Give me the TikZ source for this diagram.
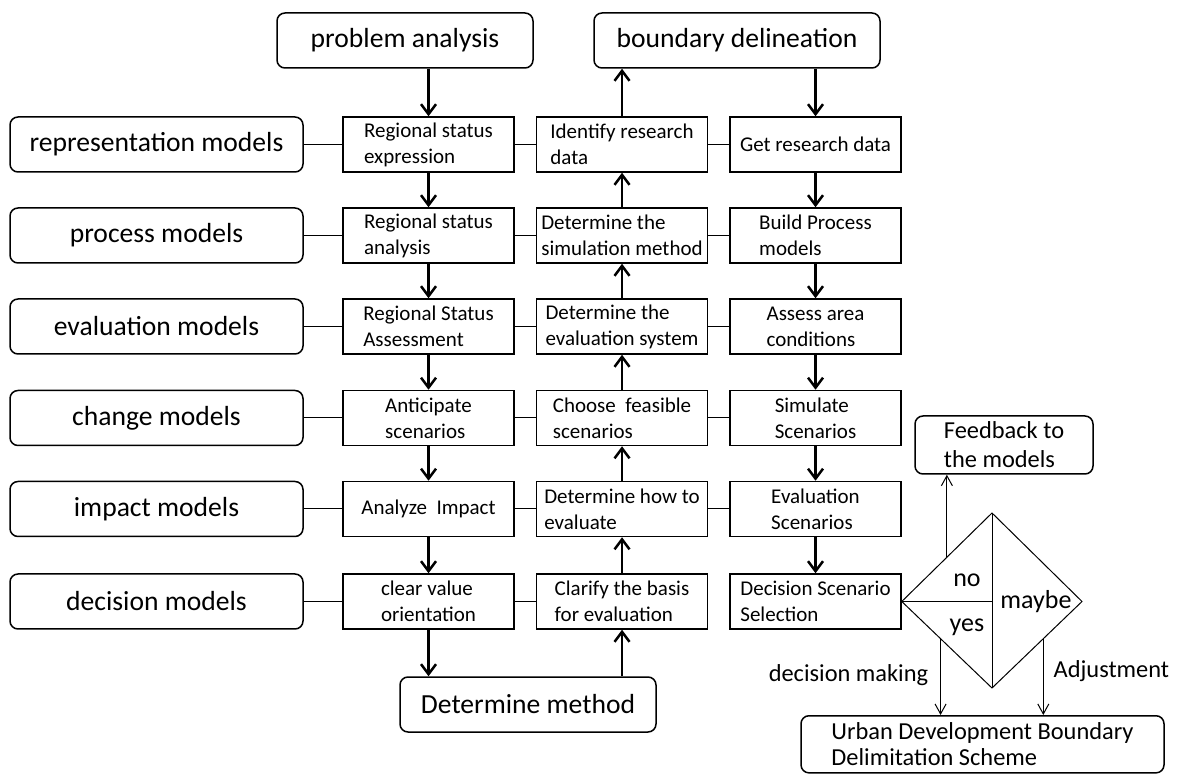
\documentclass[tikz,border=0pt]{standalone}
\usepackage{fontspec}
\setmainfont{Carlito}
\usepackage{tikz}
\usetikzlibrary{positioning,arrows.meta,calc}

\begin{document}
\begin{tikzpicture}[x=0.5pt,y=-0.5pt,
	every node/.style={inner sep=1pt},
	box/.style={draw,line width=0.75pt,minimum width=85.5pt,minimum height=27.5pt,align=left,font=\fontsize{10.5}{13}\selectfont},
	model/.style={draw,rounded corners=4pt,line width=0.75pt,minimum height=27.5pt,font=\fontsize{13.8}{16}\selectfont},
	flow/.style={line width=1.25pt,-{Straight Barb[length=5pt,width=7.5pt]}},
	link/.style={line width=0.5pt},
	thin/.style={line width=0.5pt,-{Straight Barb[length=5pt,width=5.5pt]}},
	lbl/.style={font=\fontsize{12.2}{14.5}\selectfont}]

		\useasboundingbox (0,0) rectangle (1178,774);
		\clip (0,0) rectangle (1178,774);

		%top and bottom nodes
		\node[model,minimum width=128pt] (pa) at (405,40.5) {problem analysis};
		\node[model,minimum width=143pt] (bd) at (737,40.5) {boundary delineation};
		\node[model,minimum width=128pt] (dm) at (528,704.5) {Determine method};

		%model nodes
		\node[model,minimum width=146.5pt] (m1) at (156.5,144.5) {representation models};
		\node[model,minimum width=146.5pt] (m2) at (156.5,235.5) {process models};
		\node[model,minimum width=146.5pt] (m3) at (156.5,326.5) {evaluation models};
		\node[model,minimum width=146.5pt] (m4) at (156.5,418) {change models};
		\node[model,minimum width=146.5pt] (m5) at (156.5,509) {impact models};
		\node[model,minimum width=146.5pt] (m6) at (156.5,601.5) {decision models};

		%first column
		\node[box] (a1) at (428.5,144.5) {Regional status\\expression};
		\node[box] (a2) at (428.5,235.5) {Regional status\\analysis};
		\node[box] (a3) at (428.5,326.5) {Regional Status\\Assessment};
		\node[box] (a4) at (428.5,418) {Anticipate\\scenarios};
		\node[box] (a5) at (428.5,509) {Analyze~ Impact};
		\node[box] (a6) at (428.5,601.5) {clear value\\orientation};

		%second column
		\node[box] (b1) at (622,144.5) {Identify research\\data};
		\node[box] (b2) at (622,235.5) {Determine the\\simulation method};
		\node[box] (b3) at (622,326.5) {Determine the\\evaluation system};
		\node[box] (b4) at (622,418) {Choose~ feasible\\scenarios};
		\node[box] (b5) at (622,509) {Determine how to\\evaluate};
		\node[box] (b6) at (622,601.5) {Clarify the basis\\for evaluation};

		%third column
		\node[box] (c1) at (815.5,144.5) {Get research data};
		\node[box] (c2) at (815.5,235.5) {Build Process\\models};
		\node[box] (c3) at (815.5,326.5) {Assess area\\conditions};
		\node[box] (c4) at (815.5,418) {Simulate\\Scenarios};
		\node[box] (c5) at (815.5,509) {Evaluation\\Scenarios};
		\node[box] (c6) at (815.5,601.5) {Decision Scenario\\Selection};

		%row links
		\draw[link] (m1) -- (a1) (a1) -- (b1) (b1) -- (c1);
		\draw[link] (m2) -- (a2) (a2) -- (b2) (b2) -- (c2);
		\draw[link] (m3) -- (a3) (a3) -- (b3) (b3) -- (c3);
		\draw[link] (m4) -- (a4) (a4) -- (b4) (b4) -- (c4);
		\draw[link] (m5) -- (a5) (a5) -- (b5) (b5) -- (c5);
		\draw[link] (m6) -- (a6) (a6) -- (b6);

		%down the first column
		\draw[flow] (a1 |- pa.south) -- (a1);
		\draw[flow] (a1) -- (a2);
		\draw[flow] (a2) -- (a3);
		\draw[flow] (a3) -- (a4);
		\draw[flow] (a4) -- (a5);
		\draw[flow] (a5) -- (a6);
		\draw[flow] (a6.south) -- (a6 |- dm.north);

		%up the second column
		\draw[flow] (b6 |- dm.north) -- (b6);
		\draw[flow] (b6) -- (b5);
		\draw[flow] (b5) -- (b4);
		\draw[flow] (b4) -- (b3);
		\draw[flow] (b3) -- (b2);
		\draw[flow] (b2) -- (b1);
		\draw[flow] (b1.north) -- (b1 |- bd.south);

		%down the third column
		\draw[flow] (c1 |- bd.south) -- (c1);
		\draw[flow] (c1) -- (c2);
		\draw[flow] (c2) -- (c3);
		\draw[flow] (c3) -- (c4);
		\draw[flow] (c4) -- (c5);
		\draw[flow] (c5) -- (c6);

		%decision diamond
		\coordinate (dl) at (c6.east);
		\coordinate (dt) at (992,513);
		\coordinate (dr) at (1082,601.5);
		\coordinate (db) at (992,688);
		\coordinate (dc) at (992,601.5);
		\draw[link] (dl) -- (dt) -- (dr) -- (db) -- cycle;
		\draw[link] (dt) -- (db);
		\draw[link] (dl) -- (dc);
		\node[font=\fontsize{13}{15}\selectfont] (no) at (967,580) {no};
		\node[font=\fontsize{13}{15}\selectfont] (yes) at (967,627) {yes};
		\node[font=\fontsize{13}{15}\selectfont] (maybe) at (1036,601.5) {maybe};

		%outcome nodes
		\node[model,lbl,align=left,minimum width=89pt,minimum height=29pt] (fb) at (1004,445) {Feedback to\\the models};
		\node[model,align=left,anchor=north,minimum width=181.5pt,minimum height=0pt,inner ysep=3.5pt,font=\fontsize{12.2}{13}\selectfont] (ud) at (982.5,715) {Urban Development Boundary\\Delimitation Scheme};

		%outcome arrows
		\coordinate (p1) at ($(dl)!0.5!(dt)$);
		\coordinate (p2) at ($(dl)!0.43!(db)$);
		\coordinate (p3) at ($(dr)!0.43!(db)$);
		\draw[thin] (p1) -- (p1 |- fb.south);
		\draw[thin] (p2) -- (p2 |- ud.north);
		\draw[thin] (p3) -- (p3 |- ud.north);
		\node[lbl,anchor=east] (dmk) at ($(p2)+(-10,36)$) {decision making};
		\node[lbl,anchor=west] (adj) at ($(p3)+(8,32)$) {Adjustment};

		\end{tikzpicture}
\end{document}
